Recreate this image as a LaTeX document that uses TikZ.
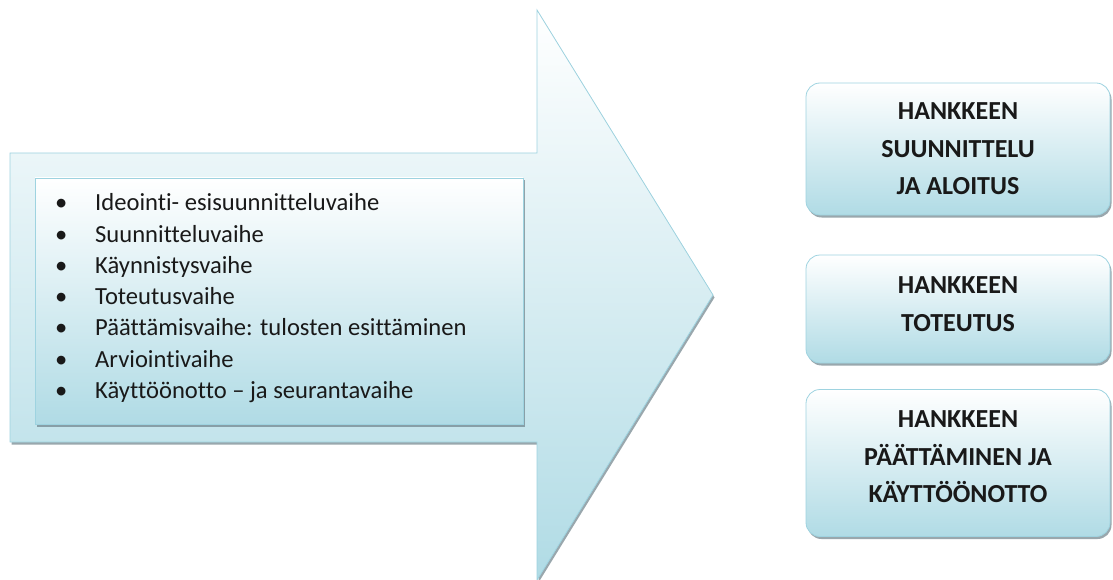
\documentclass[tikz,border=0pt]{standalone}
\usepackage{fontspec}
\setmainfont{Carlito}[Ligatures=NoCommon]
\usetikzlibrary{shadows, positioning}
\definecolor{phaseblue}{RGB}{176,219,229}
\definecolor{phaseline}{RGB}{158,211,224}
\definecolor{shadegray}{RGB}{110,130,138}
\tikzset{
  softshadow/.style = {drop shadow={shadow xshift=1.5pt, shadow yshift=-2.5pt,
                       fill=shadegray, opacity=0.7}},
  arrowshape/.style = {draw=phaseline, line width=0.8pt, top color=white,
                       bottom color=phaseblue, softshadow},
  listbox/.style    = {draw=phaseline, line width=0.8pt, top color=white,
                       bottom color=phaseblue, softshadow, minimum width=488pt,
                       minimum height=246pt, inner sep=0pt},
  phasebox/.style   = {draw=phaseline, line width=0.8pt, rounded corners=14pt,
                       top color=white, bottom color=phaseblue, softshadow,
                       minimum width=304pt, align=center, text=black!90,
                       font=\fontsize{26}{37.5}\selectfont\bfseries},
}
\begin{document}
\begin{tikzpicture}[
    x=1pt, y=-1pt,
    item/.style={anchor=base west, inner sep=0pt, text=black!90,
                 font=\fontsize{24.6}{31}\selectfont}
]
\useasboundingbox (0,0) rectangle (1113,580);

\draw[arrowshape] (10,153) -- (537,153) -- (537,10) -- (713,295)
  -- (537,580) -- (537,442) -- (10,442) -- cycle;

\node[listbox] (list) at (279,301) {};

\foreach \txt [count=\i from 0] in {Ideointi- esisuunnitteluvaihe,
    Suunnitteluvaihe, Käynnistysvaihe, Toteutusvaihe,
    Päättämisvaihe: tulosten esittäminen, Arviointivaihe,
    Käyttöönotto – ja seurantavaihe}
  \node[item] (item\i) at (55,211+31.2*\i) {\makebox[40pt][l]{\textbullet}\txt};

\node[phasebox, minimum height=132pt] (plan) at (958,149)
  {HANKKEEN\\SUUNNITTELU\\JA ALOITUS};
\node[phasebox, minimum height=108pt, text depth=10pt] (toteutus) at (958,309)
  {HANKKEEN\\TOTEUTUS};
\node[phasebox, minimum height=147pt, text depth=12pt] (loppu) at (958,463)
  {HANKKEEN\\PÄÄTTÄMINEN JA\\KÄYTTÖÖNOTTO};

\end{tikzpicture}
\end{document}
